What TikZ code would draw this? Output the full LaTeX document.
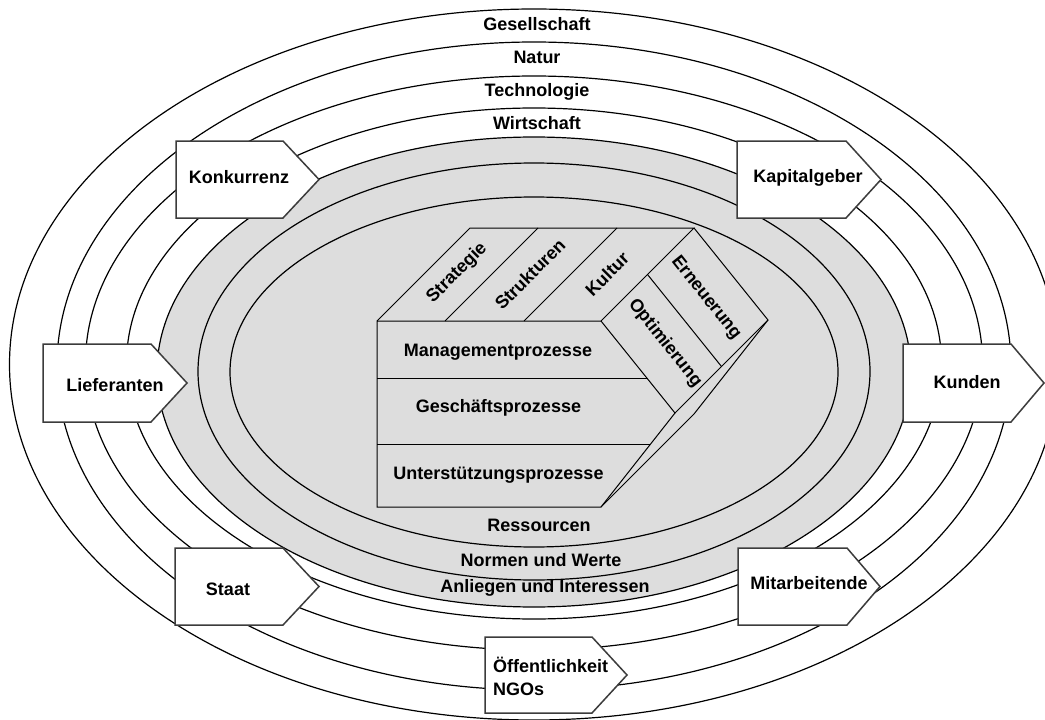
\documentclass[tikz,border=0pt]{standalone}
\usepackage{fontspec}
\setmainfont{Liberation Sans}
\usetikzlibrary{calc}
\definecolor{ringgray}{RGB}{221,221,221}
\definecolor{boxline}{RGB}{60,60,60}
\tikzset{
  ring/.style={draw=black, line width=1.2pt},
  lbl/.style={font=\fontsize{18}{23}\selectfont\bfseries, inner sep=0pt},
  blk/.style={draw=black, line width=1pt, line join=miter},
  actor/.style={draw=boxline, line width=1.5pt, fill=white, line join=miter},
}
\begin{document}
\begin{tikzpicture}[x=1pt,y=-1pt]
\useasboundingbox (0,0) rectangle (1045,720);
\clip (0,0) rectangle (1045,720);
\fill[white] (0,0) rectangle (1045,720);
% outer rings
\draw[ring] (534,364.5) ellipse [x radius=524.5pt, y radius=355.5pt];
\draw[ring] (534,366) ellipse [x radius=477pt, y radius=324pt];
\draw[ring] (534,363) ellipse [x radius=448.5pt, y radius=287pt];
\draw[ring] (534,363.5) ellipse [x radius=407.5pt, y radius=255.5pt];
% gray organisation area
\draw[ring, fill=ringgray] (534,372) ellipse [x radius=377pt, y radius=235pt];
\draw[ring] (534,371.5) ellipse [x radius=336pt, y radius=208.5pt];
\draw[ring] (534,372) ellipse [x radius=304pt, y radius=175pt];
% ring labels
\node[lbl] (gesellschaft) at (537,24) {Gesellschaft};
\node[lbl] (natur) at (537,57) {Natur};
\node[lbl] (technologie) at (537,92) {Technologie};
\node[lbl] (wirtschaft) at (537,123) {Wirtschaft};
\node[lbl] (ressourcen) at (539,525) {Ressourcen};
\node[lbl] (normen) at (541,560) {Normen und Werte};
\node[lbl] (anliegen) at (545,588) {Anliegen und Interessen};
% process block (extruded chevron)
\coordinate (F1) at (377,321);
\coordinate (F2) at (601,321);
\coordinate (T)  at (675,413);
\coordinate (F3) at (601,507);
\coordinate (F4) at (377,507);
\coordinate (B1) at (470,228);
\coordinate (B2) at (694,228);
\coordinate (BT) at (768,320);
\coordinate (B3) at (694,414);
\coordinate (S1f) at (445,321);
\coordinate (S1b) at (538,228);
\coordinate (S2f) at (524,321);
\coordinate (S2b) at (617,228);
\coordinate (r1) at ($(F2)!0.63!(T)$);
\coordinate (r2) at ($(F3)!0.66!(T)$);
\draw[blk] (F1) -- (F2) -- (T) -- (F3) -- (F4) -- cycle;
\draw[blk] (F1) -- (B1) -- (B2) -- (F2);
\draw[blk] (S1f) -- (S1b);
\draw[blk] (S2f) -- (S2b);
\draw[blk] (B2) -- (BT) -- (T);
\draw[blk] ($(F2)!0.5!(B2)$) -- ($(T)!0.5!(BT)$);
\draw[blk] (BT) -- (B3) -- (F3);
\draw[blk] (r1 -| F1) -- (r1);
\draw[blk] (r2 -| F1) -- (r2);
\node[lbl] (mgmt) at (498,352) {Managementprozesse};
\node[lbl] (gesch) at (498.5,408) {Geschäftsprozesse};
\node[lbl] (unter) at (498.5,475) {Unterstützungsprozesse};
\node[lbl, rotate=45] (strategie) at (457,273) {Strategie};
\node[lbl, rotate=45] (strukturen) at (530,274) {Strukturen};
\node[lbl, rotate=45] (kultur) at (607,274) {Kultur};
\node[lbl, rotate=-51.5] (erneuerung) at (706,298) {Erneuerung};
\node[lbl, rotate=-51.5] (optimierung) at (665,343) {Optimierung};
% stakeholder boxes
\draw[actor] (176,141) -- (283,141) -- (319,179.5) -- (283,218) -- (176,218) -- cycle;
\node[lbl] (konkurrenz) at (239,177) {Konkurrenz};
\draw[actor] (737,141) -- (846,141) -- (881,179.5) -- (846,218) -- (737,218) -- cycle;
\node[lbl] (kapitalgeber) at (808,178) {Kapitalgeber};
\draw[actor] (43,344) -- (151,344) -- (187,383) -- (151,422) -- (43,422) -- cycle;
\node[lbl] (lieferanten) at (115,385) {Lieferanten};
\draw[actor] (903,344) -- (1011,344) -- (1044,383) -- (1011,422) -- (903,422) -- cycle;
\node[lbl] (kunden) at (967,382) {Kunden};
\draw[actor] (175,548) -- (283,548) -- (319,586.5) -- (283,625) -- (175,625) -- cycle;
\node[lbl] (staat) at (228,589) {Staat};
\draw[actor] (738,548) -- (847,548) -- (880,586.5) -- (847,625) -- (738,625) -- cycle;
\node[lbl] (mitarbeitende) at (809,583) {Mitarbeitende};
\draw[actor] (485,637) -- (592,637) -- (627,675) -- (592,713) -- (485,713) -- cycle;
\node[lbl, anchor=west, align=left] (oeffentlichkeit) at (493,676) {Öffentlichkeit\\NGOs};
\end{tikzpicture}
\end{document}
